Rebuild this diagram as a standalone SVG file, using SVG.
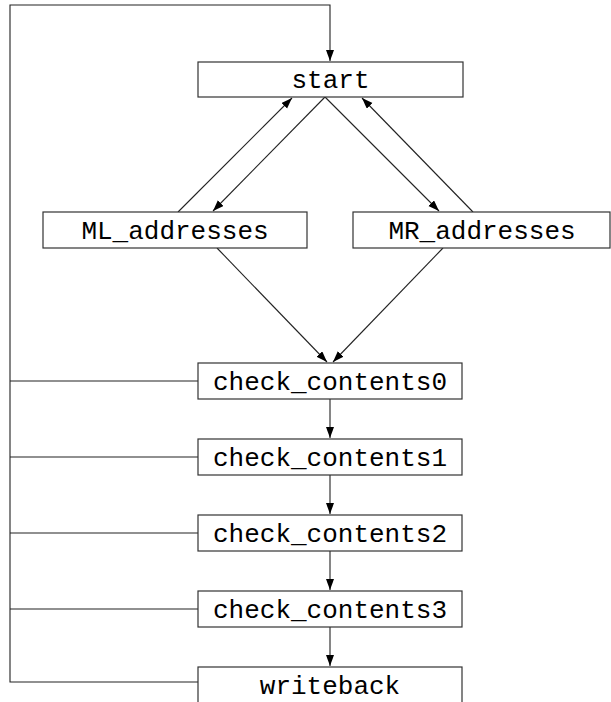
<svg xmlns="http://www.w3.org/2000/svg" width="611" height="702" viewBox="0 0 611 702">
<style>
.box{fill:#fff;stroke:#333;stroke-width:1.2}
.lbl{font-family:"Liberation Mono","DejaVu Sans Mono",monospace;font-size:26px;fill:#000;text-anchor:middle}
.edge{fill:none;stroke:#222;stroke-width:1.1}
</style>
<defs>
<marker id="ah" markerUnits="userSpaceOnUse" markerWidth="12" markerHeight="10" refX="11" refY="4" orient="auto">
<path d="M0,0 L11,4 L0,8 Z" fill="#000"/>
</marker>
</defs>
<g id="connectors">
<polyline class="edge" points="198,682 10,682 10,5 330,5 330,61" marker-end="url(#ah)"/>
<line class="edge" x1="178" y1="212" x2="292" y2="98" marker-end="url(#ah)"/>
<line class="edge" x1="325" y1="97" x2="213" y2="211" marker-end="url(#ah)"/>
<line class="edge" x1="325" y1="97" x2="439" y2="211" marker-end="url(#ah)"/>
<line class="edge" x1="473" y1="212" x2="362" y2="98" marker-end="url(#ah)"/>
<line class="edge" x1="217" y1="248" x2="327" y2="362" marker-end="url(#ah)"/>
<line class="edge" x1="443" y1="248" x2="333" y2="362" marker-end="url(#ah)"/>
<line class="edge" x1="10" y1="381" x2="198" y2="381"/>
<line class="edge" x1="10" y1="457" x2="198" y2="457"/>
<line class="edge" x1="10" y1="533" x2="198" y2="533"/>
<line class="edge" x1="10" y1="609" x2="198" y2="609"/>
<line class="edge" x1="330" y1="399" x2="330" y2="438" marker-end="url(#ah)"/>
<line class="edge" x1="330" y1="475" x2="330" y2="514" marker-end="url(#ah)"/>
<line class="edge" x1="330" y1="551" x2="330" y2="590" marker-end="url(#ah)"/>
<line class="edge" x1="330" y1="627" x2="330" y2="666" marker-end="url(#ah)"/>
</g>
<g id="start"><rect class="box" x="198" y="62" width="265" height="35"/><text class="lbl" x="330.5" y="88">start</text></g>
<g id="ML_addresses"><rect class="box" x="43" y="212" width="264" height="36"/><text class="lbl" x="175" y="239">ML_addresses</text></g>
<g id="MR_addresses"><rect class="box" x="353" y="212" width="257" height="36"/><text class="lbl" x="482" y="239">MR_addresses</text></g>
<g id="check_contents0"><rect class="box" x="198" y="363" width="264" height="36"/><text class="lbl" x="330" y="390">check_contents0</text></g>
<g id="check_contents1"><rect class="box" x="198" y="439" width="264" height="36"/><text class="lbl" x="330" y="466">check_contents1</text></g>
<g id="check_contents2"><rect class="box" x="198" y="515" width="264" height="36"/><text class="lbl" x="330" y="542">check_contents2</text></g>
<g id="check_contents3"><rect class="box" x="198" y="591" width="264" height="36"/><text class="lbl" x="330" y="618">check_contents3</text></g>
<g id="writeback"><rect class="box" x="198" y="667" width="264" height="40"/><text class="lbl" x="330" y="694">writeback</text></g>
</svg>
